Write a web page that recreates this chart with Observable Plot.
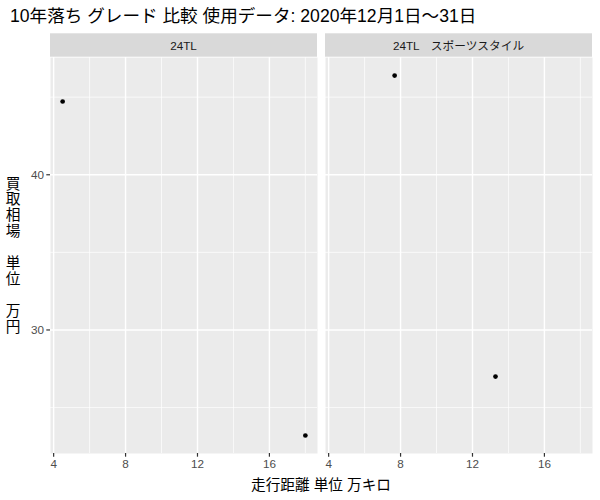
<!DOCTYPE html>
<html><head><meta charset="utf-8">
<script src="https://cdn.jsdelivr.net/npm/d3@7"></script>
<script src="https://cdn.jsdelivr.net/npm/@observablehq/plot@0.6"></script>
<style>
body{margin:0;background:#fff;font-family:"Liberation Sans","Noto Sans CJK JP",sans-serif;}
#title{height:30px;box-sizing:border-box;padding-left:10px;font-size:17.6px;line-height:32px;color:#000;white-space:nowrap;}
#chart svg{display:block;}
</style></head><body>
<div id="title">10年落ち グレード 比較 使用データ: 2020年12月1日～31日</div>
<div id="chart"></div>
<script>
// ---- data ----
const facetNames = ["24TL", "24TL　スポーツスタイル"];
const grade = ["24TL", "24TL", "24TL　スポーツスタイル", "24TL　スポーツスタイル"];
const distance = [4.5, 18.0, 7.67, 13.28];   // 万キロ
const price = [44.72, 23.2, 46.39, 27.0];     // 万円
const xTicks = [4, 8, 12, 16];
const xMinor = [6, 10, 14, 18];
const yTicks = [30, 40];
const yMinor = [25, 35, 45];
const xTitle = "走行距離 単位 万キロ";
const yTitleLines = ["買", "取", "相", "場", "", "単", "位", "", "万", "円"];

const data = grade.map((g, i) => ({grade: g, distance: distance[i], price: price[i]}));
const expand = ([a, b]) => { const d = (b - a) * 0.05; return [a - d, b + d]; };

const W = 600, H = 470, mL = 50, mR = 7.6, mT = 27.1, mB = 47;
const FONT = '"Liberation Sans","Noto Sans CJK JP",sans-serif';

const plot = Plot.plot({
  width: W, height: H,
  marginLeft: mL, marginRight: mR, marginTop: mT, marginBottom: mB,
  style: {fontFamily: FONT, fontSize: "11.7px", background: "#fff", overflow: "visible"},
  fx: {domain: facetNames, paddingInner: 0.0284, paddingOuter: 0, axis: null, label: null},
  x: {domain: expand(d3.extent(distance)), label: null},
  y: {domain: expand(d3.extent(price)), label: null},
  marks: [
    Plot.frame({fill: "#EBEBEB", stroke: "none"}),
    Plot.gridX(xMinor, {stroke: "white", strokeOpacity: 1, strokeWidth: 0.71}),
    Plot.gridY(yMinor, {stroke: "white", strokeOpacity: 1, strokeWidth: 0.71}),
    Plot.gridX(xTicks, {stroke: "white", strokeOpacity: 1, strokeWidth: 1.42}),
    Plot.gridY(yTicks, {stroke: "white", strokeOpacity: 1, strokeWidth: 1.42}),
    Plot.axisX(xTicks, {tickSize: 3.7, tickPadding: 2.9, stroke: "#333333", strokeWidth: 1.2, fill: "#4D4D4D", label: null, fontSize: 11.7}),
    Plot.axisY(yTicks, {tickSize: 3.7, tickPadding: 2.9, stroke: "#333333", strokeWidth: 1.2, fill: "#4D4D4D", label: null, fontSize: 11.7}),
    Plot.dot(data, {x: "distance", y: "price", fx: "grade", r: 2.35, fill: "black", stroke: "none"})
  ]
});
document.getElementById("chart").appendChild(plot);

// strips from the fx scale
const fx = plot.scale("fx");
const svg = d3.select(plot);
const stripH = 23.4, stripGap = 0.4;
const sg = svg.append("g");
for (const name of facetNames) {
  const x0 = fx.apply(name);
  sg.append("rect").attr("x", x0).attr("y", mT - stripGap - stripH)
    .attr("width", fx.bandwidth).attr("height", stripH).attr("fill", "#D9D9D9");
  sg.append("text").attr("x", x0 + fx.bandwidth / 2).attr("y", mT - stripGap - stripH / 2)
    .attr("text-anchor", "middle").attr("dominant-baseline", "central")
    .attr("font-family", FONT).attr("font-size", 11.7).attr("fill", "#1A1A1A").text(name);
}
// axis titles
const panelL = fx.apply(facetNames[0]);
const panelR = fx.apply(facetNames[facetNames.length - 1]) + fx.bandwidth;
svg.append("text").attr("x", (panelL + panelR) / 2).attr("y", H - 15)
  .attr("text-anchor", "middle").attr("dominant-baseline", "central")
  .attr("font-family", FONT).attr("font-size", 14.67).attr("fill", "#000").text(xTitle);
const cy = (mT + H - mB) / 2, lh = 15.9;
const yt = svg.append("text").attr("font-family", FONT).attr("font-size", 14.67)
  .attr("fill", "#000").attr("text-anchor", "middle").attr("dominant-baseline", "central");
yTitleLines.forEach((c, i) => {
  yt.append("tspan").attr("x", 13).attr("y", cy + (i - (yTitleLines.length - 1) / 2) * lh).text(c || " ");
});
</script>
</body></html>
